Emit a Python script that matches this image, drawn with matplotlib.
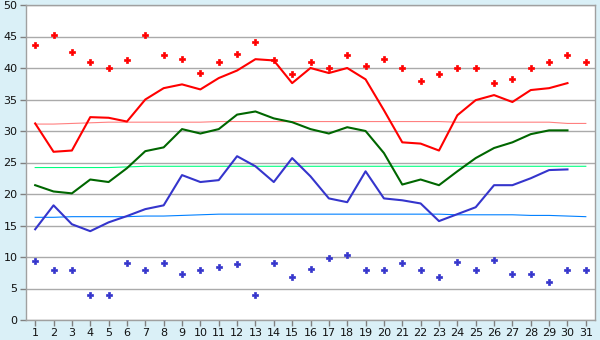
import numpy as np
import matplotlib
matplotlib.use('Agg')
import matplotlib.pyplot as plt

# categories 1..31
days = list(range(1, 32))

# main series (days 1..30)
high_line = [31.2, 26.7, 26.9, 32.2, 32.1, 31.5, 35.0, 36.8, 37.4, 36.6,
             38.4, 39.6, 41.4, 41.2, 37.6, 40.0, 39.2, 40.0, 38.2, 33.3,
             28.2, 28.0, 26.9, 32.5, 34.9, 35.7, 34.6, 36.5, 36.8, 37.6]
mid_line = [21.4, 20.4, 20.1, 22.3, 21.9, 24.1, 26.8, 27.4, 30.3, 29.6,
            30.3, 32.6, 33.1, 32.0, 31.4, 30.3, 29.6, 30.6, 30.0, 26.5,
            21.5, 22.3, 21.4, 23.6, 25.7, 27.3, 28.2, 29.5, 30.1, 30.1]
low_line = [14.4, 18.2, 15.2, 14.1, 15.5, 16.5, 17.6, 18.2, 23.0, 21.9,
            22.2, 26.0, 24.4, 21.9, 25.7, 22.8, 19.3, 18.7, 23.6, 19.3,
            19.0, 18.5, 15.7, 16.8, 17.9, 21.4, 21.4, 22.5, 23.8, 23.9]

# extreme points (days 1..31)
max_pts = [43.6, 45.2, 42.5, 40.9, 40.0, 41.2, 45.2, 42.0, 41.5, 39.2,
           41.0, 42.3, 44.1, 41.2, 39.0, 41.0, 40.0, 42.0, 40.3, 41.4,
           40.0, 38.0, 39.0, 40.0, 40.0, 37.6, 38.2, 40.0, 41.0, 42.0, 41.0]
min_pts = [9.3, 7.9, 7.9, 3.9, 3.9, 9.0, 7.9, 9.0, 7.25, 7.9,
           8.4, 8.9, 3.9, 9.0, 6.9, 8.1, 9.8, 10.3, 8.0, 8.0,
           9.0, 7.9, 6.8, 9.2, 7.9, 9.5, 7.25, 7.25, 6.0, 7.9, 7.9]

# long-term averages (days 1..31)
avg_high = [31.1, 31.1, 31.2, 31.3, 31.4, 31.4, 31.4, 31.4, 31.4, 31.4,
            31.5, 31.5, 31.5, 31.5, 31.5, 31.5, 31.5, 31.5, 31.5, 31.5,
            31.5, 31.5, 31.5, 31.4, 31.4, 31.4, 31.4, 31.4, 31.4, 31.2, 31.2]
avg_mid = [24.2, 24.2, 24.2, 24.2, 24.2, 24.3, 24.4, 24.4, 24.4, 24.4,
           24.4, 24.4, 24.4, 24.4, 24.4, 24.4, 24.4, 24.4, 24.4, 24.4,
           24.4, 24.4, 24.4, 24.4, 24.4, 24.4, 24.4, 24.4, 24.4, 24.4, 24.4]
avg_low = [16.3, 16.3, 16.4, 16.4, 16.4, 16.4, 16.5, 16.5, 16.6, 16.7,
           16.8, 16.8, 16.8, 16.8, 16.8, 16.8, 16.8, 16.8, 16.8, 16.8,
           16.8, 16.8, 16.8, 16.7, 16.7, 16.7, 16.7, 16.6, 16.6, 16.5, 16.4]

fig = plt.figure(figsize=(6, 3.4), dpi=100, facecolor='#daf0f7')
ax = fig.add_axes([26 / 600, 1 - 320 / 340, 569 / 600, 315 / 340])
ax.set_facecolor('white')

x31 = np.array(days)
x30 = x31[:30]

# averages (thin)
ax.plot(x31, avg_high, color='#ff8080', lw=0.8, zorder=2)
ax.plot(x31, avg_mid, color='#00ff80', lw=0.8, zorder=2)
ax.plot(x31, avg_low, color='#0080ff', lw=0.8, zorder=2)

# main lines
ax.plot(x30, high_line, color='#ff0000', lw=1.5, zorder=3)
ax.plot(x30, mid_line, color='#006600', lw=1.5, zorder=3)
ax.plot(x30, low_line, color='#3535cc', lw=1.5, zorder=3)

# extreme points
ax.plot(x31, max_pts, ls='none', marker='P', ms=3.8, color='#ff0000',
        mec='#ff0000', mew=0.5, zorder=4)
ax.plot(x31, min_pts, ls='none', marker='P', ms=3.8, color='#3535cc',
        mec='#3535cc', mew=0.5, zorder=4)

ax.set_xlim(0.5, 31.5)
ax.set_ylim(0, 50)
ax.set_xticks(days)
ax.set_yticks(range(0, 51, 5))
ax.yaxis.grid(True, color='#aaaaaa', lw=1.0)
ax.set_axisbelow(True)

for side in ['top', 'right', 'bottom', 'left']:
    ax.spines[side].set_color('#a0a0a0')
    ax.spines[side].set_linewidth(1.0)

ax.tick_params(axis='both', direction='out', length=4, width=1,
               color='#808080', labelsize=8, labelcolor='#111111', pad=2)

fig.savefig('out.png', dpi=100, facecolor=fig.get_facecolor())
